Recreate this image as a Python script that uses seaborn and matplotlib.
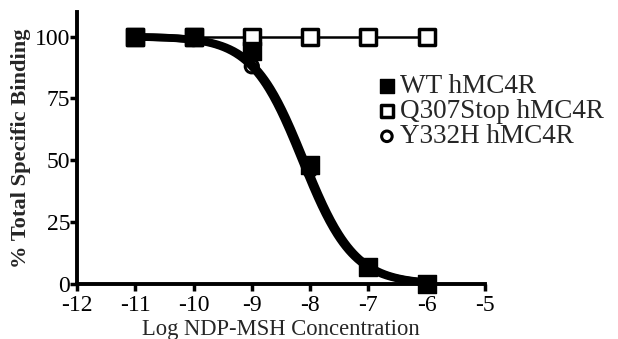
import numpy as np
import pandas as pd
import matplotlib
matplotlib.use('Agg')
from matplotlib import pyplot as plt
import seaborn as sns

# measured points
log_conc = [-11, -10, -9, -8, -7, -6]
wt = [100, 100, 94, 48, 7, 0]
q307stop = [100, 100, 100, 100, 100, 100]
y332h = [100, 99, 88, 46, 7, 0]

# fitted one-site curve parameters (top, bottom, logIC50, hill slope)
wt_fit = (100, 0, -8.10, -1.0)
y332h_fit = (100, 0, -8.14, -1.0)

sns.set_style('ticks')
plt.rcParams['font.family'] = ['Liberation Serif', 'DejaVu Serif']


def hill(x, top, bottom, logic50, slope):
    return bottom + (top - bottom) / (1 + 10 ** ((logic50 - x) * slope))


df = pd.DataFrame({'x': log_conc, 'WT': wt, 'Q307': q307stop, 'Y332H': y332h})

fig = plt.figure(figsize=(6.18, 3.39), dpi=100)
ax = fig.add_axes([0.1246, 0.162, 0.660, 0.803])

xs = np.linspace(-11, -6, 300)
ax.plot(xs, hill(xs, *wt_fit), color='black', lw=5.5, zorder=2, clip_on=False)
ax.plot(xs, hill(xs, *y332h_fit), color='black', lw=5.5, zorder=2, clip_on=False)
sns.lineplot(data=df, x='x', y='Q307', color='black', lw=1.8, ax=ax, zorder=2)

sns.scatterplot(data=df, x='x', y='Q307', marker='s', s=130, facecolor='white',
                edgecolor='black', linewidth=2.5, ax=ax, zorder=3, clip_on=False,
                label='Q307Stop hMC4R')
sns.scatterplot(data=df, x='x', y='WT', marker='s', s=150, color='black',
                edgecolor='black', linewidth=1, ax=ax, zorder=4, clip_on=False,
                label='WT hMC4R')
sns.scatterplot(data=df, x='x', y='Y332H', marker='o', s=90, facecolor='none',
                edgecolor='black', linewidth=2.2, ax=ax, zorder=5, clip_on=False,
                label='Y332H hMC4R')

ax.set_xlim(-12, -5)
ax.set_ylim(0, 110)
ax.set_xticks([-12, -11, -10, -9, -8, -7, -6, -5])
ax.set_yticks([0, 25, 50, 75, 100])
ax.set_xticklabels(['-12', '-11', '-10', '-9', '-8', '-7', '-6', '-5'])
ax.tick_params(axis='both', labelsize=17, width=2.5, length=5, color='black',
               labelcolor='black', pad=0)
ax.tick_params(axis='x', pad=3)
for side in ['left', 'bottom']:
    ax.spines[side].set_linewidth(2.8)
    ax.spines[side].set_color('black')
sns.despine(ax=ax)

ax.set_xlabel('Log NDP-MSH Concentration', fontsize=16.3, labelpad=2)
ax.set_ylabel('% Total Specific Binding', fontsize=16.2, fontweight='bold',
              labelpad=3)

handles, labels = ax.get_legend_handles_labels()
order = [1, 0, 2]
leg = ax.legend([handles[i] for i in order], [labels[i] for i in order],
                loc='upper left', bbox_to_anchor=(0.70, 0.81), frameon=False,
                fontsize=19.5, handletextpad=0.0, labelspacing=0.0,
                borderaxespad=0, handlelength=1.0, markerscale=0.8)

plt.savefig('out.png', dpi=100)
